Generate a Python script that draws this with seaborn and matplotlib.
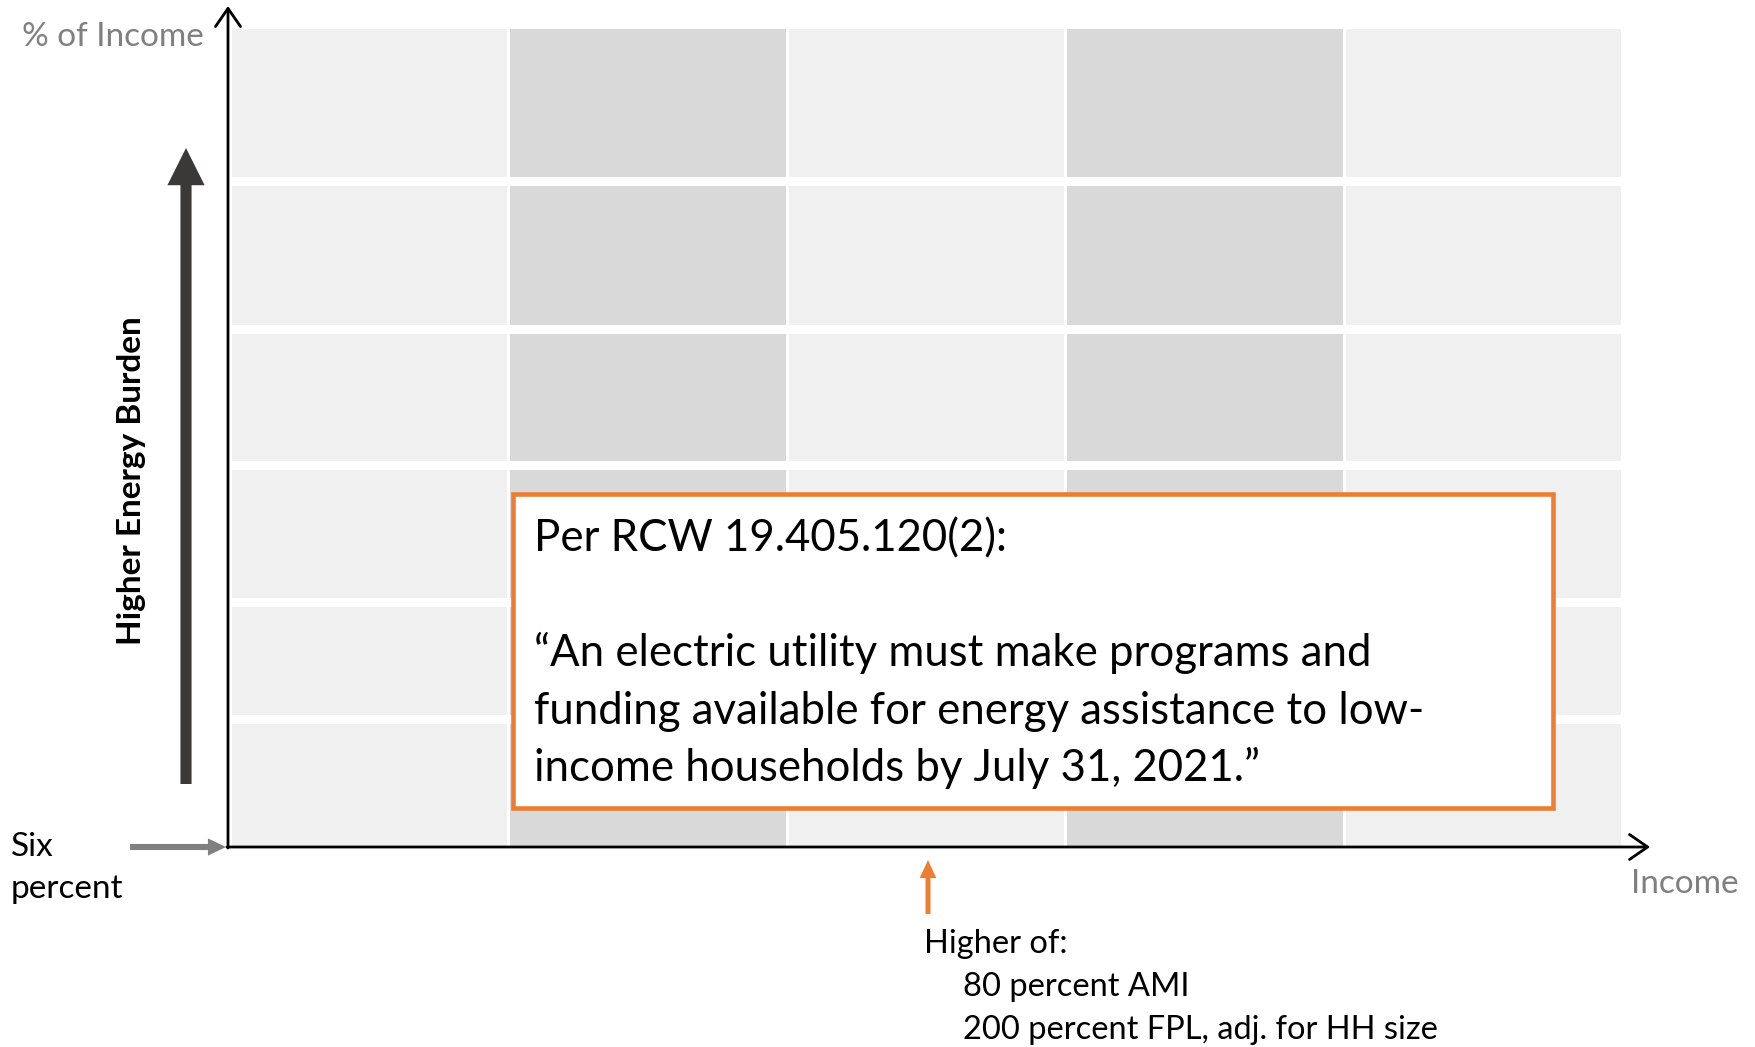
import numpy as np
import pandas as pd
import matplotlib.pyplot as plt
import seaborn as sns
from matplotlib.patches import Rectangle, FancyArrowPatch

W, H = 1756, 1047

# grid bands: income (left -> right) and energy burden (bottom -> top)
col_shades = ["light", "dark", "light", "dark", "light"]
row_heights = [132, 117, 137, 136, 148, 148]  # includes the white gap above each band

box_title = "Per RCW 19.405.120(2):"
box_quote = [
    "\u201cAn electric utility must make programs and",
    "funding available for energy assistance to low-",
    "income households by July 31, 2021.\u201d",
]
threshold_lines = ["Higher of:", "80 percent AMI", "200 percent FPL, adj. for HH size"]
six_lines = ["Six", "percent"]

shade_colors = {"light": "#F0F0F0", "dark": "#D9D9D9"}
ORANGE = "#ED7D31"
GRAY = "#808080"
DARK = "#3B3838"

sns.set_theme(style="white")
plt.rcParams["font.family"] = ["Lato", "DejaVu Sans"]


def f(x, y):
    # pixel position (from top-left) -> figure fraction
    return (x / W, 1 - y / H)


fig = plt.figure(figsize=(W / 100, H / 100), dpi=100)
ax = fig.add_axes([232 / W, (H - 847) / H, (1624 - 232) / W, (847 - 29) / H])

# cells
bottom = 0
for r, h in enumerate(row_heights):
    gap = 0 if r == len(row_heights) - 1 else 9
    for c, shade in enumerate(col_shades):
        ax.bar(c, h - gap, width=0.989, bottom=bottom, align="edge",
               color=shade_colors[shade], linewidth=0)
    bottom += h
ax.set_xlim(0, len(col_shades))
ax.set_ylim(0, sum(row_heights))
ax.set_axis_off()


def arrow(p0, p1, style, color, lw=0, ms=20):
    a = FancyArrowPatch(f(*p0), f(*p1), transform=fig.transFigure,
                        arrowstyle=style, color=color, lw=lw,
                        mutation_scale=ms, shrinkA=0, shrinkB=0)
    fig.add_artist(a)


# axes
arrow((228, 848), (228, 6), "->,head_length=0.65,head_width=0.45", "black", lw=2)
arrow((227, 847), (1650, 847), "->,head_length=0.65,head_width=0.45", "black", lw=2)

# burden arrow
arrow((186, 784), (186, 148), "simple,head_length=0.67,head_width=0.67,tail_width=0.2", DARK, ms=40)
# six percent arrow
arrow((130, 847), (226, 847), "simple,head_length=0.65,head_width=0.62,tail_width=0.22", GRAY, ms=20)
# threshold arrow
arrow((928, 914), (928, 860), "simple,head_length=0.65,head_width=0.6,tail_width=0.18", ORANGE, ms=20)

# labels
fig.text(*f(204, 37), "% of Income", color=GRAY, fontsize=24, ha="right", va="center")
fig.text(*f(1631, 884), "Income", color=GRAY, fontsize=24, ha="left", va="center")
fig.text(*f(132, 481), "Higher Energy Burden", color="black", fontsize=24,
         fontweight="bold", rotation=90, ha="center", va="center")
for i, s in enumerate(six_lines):
    fig.text(*f(11, 847 + 42 * i), s, color="black", fontsize=24, ha="left", va="center")

for i, s in enumerate(threshold_lines):
    x = 924 if i == 0 else 963
    fig.text(*f(x, 944 + 43 * i), s, color="black", fontsize=23.5, ha="left", va="center")

# callout box
x0, y0 = f(513, 808)
x1, y1 = f(1553, 494)
fig.add_artist(Rectangle((x0, y0), x1 - x0, y1 - y0, transform=fig.transFigure,
                         facecolor="white", edgecolor=ORANGE, lw=3.3))
fig.text(*f(534, 551), box_title, color="black", fontsize=31.5, ha="left", va="baseline")
for i, s in enumerate(box_quote):
    fig.text(*f(534, 666 + 57.5 * i), s, color="black", fontsize=31.5, ha="left", va="baseline")

fig.savefig("out.png", dpi=100, facecolor="white")
